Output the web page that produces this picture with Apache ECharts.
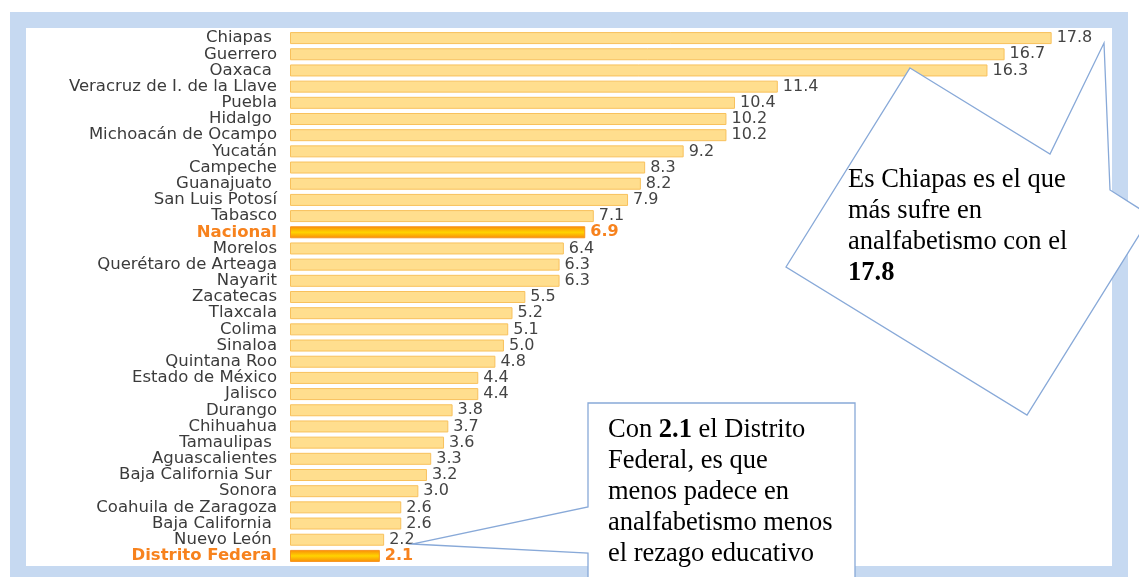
<!DOCTYPE html>
<html>
<head>
<meta charset="utf-8">
<script src="https://cdn.jsdelivr.net/npm/echarts@6/dist/echarts.min.js"></script>
<style>
  html, body { margin: 0; padding: 0; background: #fff; }
  #chart { width: 1139px; height: 577px; }
</style>
</head>
<body>
<div id="chart"></div>
<script>
// analfabetismo por entidad (%)
const categories = [
  'Chiapas ', 'Guerrero', 'Oaxaca ', 'Veracruz de I. de la Llave', 'Puebla', 'Hidalgo ',
  'Michoacán de Ocampo', 'Yucatán', 'Campeche', 'Guanajuato ', 'San Luis Potosí', 'Tabasco',
  'Nacional', 'Morelos', 'Querétaro de Arteaga', 'Nayarit', 'Zacatecas', 'Tlaxcala',
  'Colima', 'Sinaloa', 'Quintana Roo', 'Estado de México', 'Jalisco', 'Durango',
  'Chihuahua', 'Tamaulipas ', 'Aguascalientes', 'Baja California Sur ', 'Sonora',
  'Coahuila de Zaragoza', 'Baja California ', 'Nuevo León ', 'Distrito Federal'
]
const values = [
  17.8, 16.7, 16.3, 11.4, 10.4, 10.2,
  10.2, 9.2, 8.3, 8.2, 7.9, 7.1,
  6.9, 6.4, 6.3, 6.3, 5.5, 5.2,
  5.1, 5.0, 4.8, 4.4, 4.4, 3.8,
  3.7, 3.6, 3.3, 3.2, 3.0,
  2.6, 2.6, 2.2, 2.1
]
const highlighted = ['Nacional', 'Distrito Federal']

const FONT = 'DejaVu Sans'
const ORANGE = '#f7821d'
const CALLOUT = '#88a9d8'

const isHl = name => highlighted.indexOf(name.trim()) >= 0

const hlFill = new echarts.graphic.LinearGradient(0, 0, 0, 1, [
  { offset: 0, color: '#f98a0a' },
  { offset: 0.5, color: '#ffd400' },
  { offset: 1, color: '#f98a0a' }
])

const chart = echarts.init(document.getElementById('chart'))
chart.setOption({
  animation: false,
  backgroundColor: '#fff',
  grid: {
    left: 290,
    top: 30,
    width: 813,
    height: 534,
    containLabel: false
  },
  xAxis: {
    type: 'value',
    min: 0,
    max: 19,
    show: false
  },
  yAxis: {
    type: 'category',
    inverse: true,
    data: categories,
    axisLine: { show: false },
    axisTick: { show: false },
    splitLine: { show: false },
    axisLabel: {
      interval: 0,
      margin: 13,
      color: '#3b3b3b',
      fontSize: 16.5,
      fontFamily: FONT,
      formatter: name => isHl(name) ? '{hl|' + name + '}' : name,
      rich: {
        hl: { color: ORANGE, fontWeight: 'bold', fontSize: 16.5, fontFamily: FONT }
      }
    }
  },
  series: [{
    type: 'bar',
    barWidth: 12,
    z: 2,
    data: values.map((v, i) => {
      const hl = isHl(categories[i])
      return {
        value: v,
        itemStyle: hl
          ? { color: hlFill, borderColor: '#f7941d', borderWidth: 1 }
          : { color: '#ffde8e', borderColor: '#f8c15c', borderWidth: 1 },
        label: hl ? { color: ORANGE, fontWeight: 'bold' } : {}
      }
    }),
    label: {
      show: true,
      position: 'right',
      distance: 5,
      color: '#444',
      fontSize: 16,
      fontFamily: FONT,
      formatter: p => p.value.toFixed(1)
    }
  }],
  graphic: [
    // marco azul
    {
      type: 'rect', z: -10, silent: true,
      shape: { x: 10, y: 12, width: 1118, height: 570 },
      style: { fill: '#c6d9f1' }
    },
    {
      type: 'rect', z: -9, silent: true,
      shape: { x: 26, y: 28, width: 1086, height: 538 },
      style: { fill: '#fff' }
    },
    // llamada Chiapas
    {
      type: 'polygon', z: 100, silent: true,
      shape: {
        points: [[910, 68], [1050, 154], [1104, 43], [1110, 190], [1151, 216], [1027, 415], [786, 267]]
      },
      style: { fill: '#fff', stroke: CALLOUT, lineWidth: 1.3 }
    },
    {
      type: 'text', z: 101, silent: true,
      x: 848, y: 165,
      style: {
        text: 'Es Chiapas es el que\nmás sufre en\nanalfabetismo con el\n{b|17.8}',
        font: '26.5px "Liberation Serif"',
        fill: '#000',
        lineHeight: 31,
        rich: {
          b: { fontWeight: 'bold', fontSize: 26.5, fontFamily: 'Liberation Serif', lineHeight: 31 }
        }
      }
    },
    // llamada Distrito Federal
    {
      type: 'polygon', z: 100, silent: true,
      shape: {
        points: [[588, 403], [855, 403], [855, 600], [588, 600], [588, 553], [412, 544], [588, 507]]
      },
      style: { fill: '#fff', stroke: CALLOUT, lineWidth: 1.3 }
    },
    {
      type: 'text', z: 101, silent: true,
      x: 608, y: 415,
      style: {
        text: 'Con {b|2.1} el Distrito\nFederal, es que\nmenos padece en\nanalfabetismo menos\nel rezago educativo',
        font: '26.5px "Liberation Serif"',
        fill: '#000',
        lineHeight: 31,
        rich: {
          b: { fontWeight: 'bold', fontSize: 26.5, fontFamily: 'Liberation Serif', lineHeight: 31 }
        }
      }
    }
  ]
})
</script>
</body>
</html>
